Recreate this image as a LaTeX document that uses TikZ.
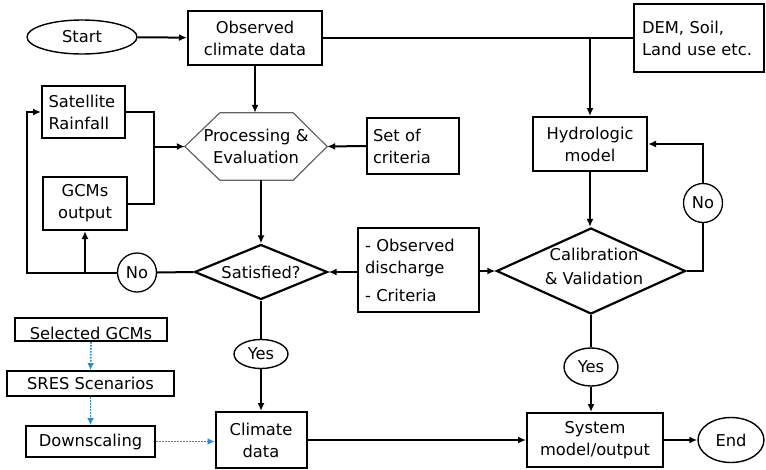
\documentclass[tikz,border=0pt]{standalone}
\usepackage{fontspec}
\setmainfont{DejaVu Sans}
\usetikzlibrary{shapes.geometric,arrows.meta,calc}
\definecolor{dotblue}{RGB}{40,140,210}
\definecolor{hexgray}{RGB}{100,100,100}
\begin{document}
\begin{tikzpicture}[x=1pt,y=-1pt,
  every node/.style={font=\fontsize{16.3}{22}\selectfont},
  box/.style={draw, line width=2pt, inner sep=0pt, align=center},
  oval/.style={draw, ellipse, line width=1.4pt, inner sep=0pt},
  ring/.style={draw, circle, line width=1.3pt, inner sep=0pt, minimum size=39pt},
  dia/.style={draw, diamond, line width=2.2pt, inner sep=0pt},
  conn/.style={line width=2pt},
  arr/.style={line width=2pt, -{Latex[length=8pt,width=7pt]}},
  barr/.style={line width=1.8pt, dash pattern=on 1.6pt off 1.4pt, dotblue, -{Latex[length=7pt,width=7pt]}},
]
\useasboundingbox (0,0) rectangle (766,469);

% nodes
\node[oval, minimum width=110pt, minimum height=34pt] (start) at (82,37) {Start};
\node[box, minimum width=134pt, minimum height=54pt] (obs) at (255,38) {Observed\\climate data};
\node[box, minimum width=130pt, minimum height=68pt, align=left, text width=114pt] (dem) at (699,38) {DEM, Soil,\\Land use etc.};
\node[box, minimum width=114pt, minimum height=54pt] (hyd) at (590,144) {Hydrologic\\model};
\node[ring] (noR) at (703,203) {No};
\node[dia, minimum width=189pt, minimum height=86pt] (cal) at (591,271) {};
\node[align=center] (calt) at (594,266) {Calibration\\[2pt]\& Validation};
\node[oval, minimum width=54pt, minimum height=38pt] (yesR) at (591,367) {Yes};
\node[box, minimum width=136pt, minimum height=54pt] (sys) at (595,440) {System\\model/output};
\node[oval, minimum width=66pt, minimum height=45pt] (endn) at (731,440) {End};
\node[box, minimum width=91pt, minimum height=56pt] (clim) at (261,440) {Climate\\data};

\node[dia, minimum width=133pt, minimum height=55pt] (sat) at (261,272) {};
\node (satt) at (261,272) {Satisfied?};

\node[minimum width=142pt, minimum height=67pt, inner sep=0pt, align=center] (proc) at (256,146.5) {Processing \&\\Evaluation};
\draw[hexgray, line width=1.2pt] (proc.west) -- ($(proc.north west)+(35,0)$) -- ($(proc.north east)+(-34,0)$) -- (proc.east) -- ($(proc.south east)+(-34,0)$) -- ($(proc.south west)+(35,0)$) -- cycle;

\node[box, minimum width=92pt, minimum height=56pt, align=left, text width=80pt] (crit) at (413,146) {Set of\\criteria};
\node[box, minimum width=83pt, minimum height=52pt, align=left, text width=70pt] (satr) at (83.5,112) {Satellite\\Rainfall};
\node[box, minimum width=84pt, minimum height=53pt] (gcm) at (85,203.5) {GCMs\\output};
\node[ring] (noL) at (137,272.5) {No};
\node[box, minimum width=121pt, minimum height=84pt, align=left, text width=107pt] (disc) at (418.5,270) {- Observed\\discharge\\[6pt]- Criteria};
\node[oval, minimum width=54pt, minimum height=29pt] (yesL) at (261,354) {Yes};

\node[box, minimum width=152pt, minimum height=23pt] (sel) at (91,329.5) {};
\node (selt) at (91,333) {Selected GCMs};
\node[box, minimum width=167pt, minimum height=25pt] (sres) at (90.5,383.5) {SRES Scenarios};
\node[box, minimum width=129pt, minimum height=31pt] (down) at (90.5,441.5) {Downscaling};

% connectors
\draw[arr] (start) -- (obs);
\draw[conn] (obs.east) -- (dem.west |- obs.east);
\draw[arr] (hyd.north |- obs.east) -- (hyd.north);
\draw[arr] (obs.south) -- (obs.south |- proc.north);
\draw[arr] (crit.west) -- (proc.east);
\coordinate (jx) at (154,146.5);
\draw[conn] (satr.east) -| (jx) |- (gcm.east);
\draw[arr] (jx) -- (proc.west);
\draw[arr] (sat.north |- proc.south) -- (sat.north);
\draw[conn] (sat.west) -- (noL.east);
\coordinate (lx) at (27,272.5);
\draw[arr] (noL.west) -- (lx) |- (satr.west);
\draw[arr] (gcm.south |- lx) -- (gcm.south);
\draw[arr] (disc.west |- sat.east) -- (sat.east);
\draw[arr] (disc.east |- cal.west) -- (cal.west);
\draw[arr] (hyd.south) -- (hyd.south |- cal.north);
\coordinate (rx) at (703,271);
\draw[conn] (cal.east) -- (rx) -- (noR.south);
\draw[arr] (noR.north) |- (hyd.east);
\draw[conn] (cal.south) -- (yesR.north);
\draw[arr] (yesR.south) -- (yesR.south |- sys.north);
\draw[conn] (sat.south) -- (yesL.north);
\draw[arr] (yesL.south) -- (clim.north);
\draw[arr] (clim.east) -- (sys.west |- clim.east);
\draw[arr] (sys.east) -- (endn.west);
\draw[barr] (sel.south) -- (sres.north);
\draw[barr] (sres.south) -- (down.north);
\draw[barr] (down.east) -- (clim.west |- down.east);
\end{tikzpicture}
\end{document}
